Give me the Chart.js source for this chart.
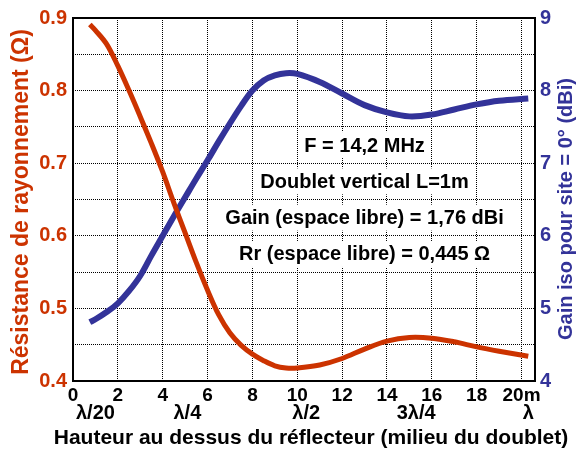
<!DOCTYPE html>
<html>
<head>
<meta charset="utf-8">
<script src="https://cdn.jsdelivr.net/npm/chart.js@4"></script>
<style>
  html, body { margin: 0; padding: 0; background: #fff; }
  #wrap { width: 579px; height: 451px; }
</style>
</head>
<body>
<div id="wrap"><canvas id="chart" width="579" height="451"></canvas></div>
<script>
// Hauteur (m) des points relevés
const heights = [0.75, 1, 1.5, 2, 2.5, 3, 3.5, 4, 4.5, 5, 5.5, 6, 6.5, 7, 7.5, 8, 8.5, 9, 9.5, 10, 11, 12, 13, 14, 15, 16, 17, 18, 19, 20.3];
// Résistance de rayonnement (ohm), axe gauche
const resistance = [0.891, 0.883, 0.864, 0.834, 0.800, 0.764, 0.727, 0.688, 0.645, 0.604, 0.563, 0.525, 0.491, 0.466, 0.449, 0.437, 0.428, 0.421, 0.418, 0.418, 0.422, 0.431, 0.444, 0.455, 0.460, 0.459, 0.454, 0.447, 0.441, 0.434];
// Gain iso pour site = 0° (dBi), axe droit
const gain = [4.81, 4.85, 4.95, 5.07, 5.24, 5.45, 5.73, 6.00, 6.27, 6.53, 6.79, 7.04, 7.30, 7.55, 7.79, 8.00, 8.14, 8.21, 8.24, 8.23, 8.12, 7.96, 7.80, 7.70, 7.645, 7.67, 7.74, 7.81, 7.86, 7.89];

// graduations de l'axe X
const xTicks = [0, 2, 4, 6, 8, 10, 12, 14, 16, 18, 20];
// seconde ligne sous l'axe X
const lambdaLabels = ['λ/20', 'λ/4', 'λ/2', '3λ/4', 'λ'];
const lambdaPos = [1, 5.1, 10.4, 15.3, 20.3];

const infoLines = ['F = 14,2 MHz', 'Doublet vertical L=1m', 'Gain (espace libre) = 1,76 dBi', 'Rr (espace libre) = 0,445 Ω'];
const infoY = [0.725, 0.675, 0.625, 0.575];
const infoX = 13;

const RED = 'rgb(204, 51, 0)';
const BLUE = 'rgb(51, 51, 153)';
const FONT = 'Arial, "Liberation Sans", sans-serif';

const extras = {
  id: 'extras',
  afterDatasetsDraw(chart) {
    const ctx = chart.ctx;
    const x = chart.scales.x, y = chart.scales.y;
    ctx.save();
    // encadré d'informations
    ctx.font = 'bold 20px ' + FONT;
    ctx.textAlign = 'center';
    ctx.textBaseline = 'middle';
    infoLines.forEach((t, i) => {
      const cx = x.getPixelForValue(infoX);
      const cy = y.getPixelForValue(infoY[i]);
      const w = ctx.measureText(t).width;
      ctx.fillStyle = '#fff';
      ctx.fillRect(cx - w / 2 - 3, cy - 13, w + 6, 26);
      ctx.fillStyle = '#000';
      ctx.fillText(t, cx, cy + 1);
    });
    // cadre
    const a = chart.chartArea;
    ctx.strokeStyle = '#000';
    ctx.lineWidth = 2;
    ctx.strokeRect(a.left, a.top, a.right - a.left, a.bottom - a.top);
    ctx.restore();
  },
  afterDraw(chart) {
    const ctx = chart.ctx;
    const x = chart.scales.x;
    ctx.save();
    ctx.textBaseline = 'middle';
    ctx.textAlign = 'center';
    ctx.fillStyle = '#000';
    ctx.font = 'bold 20px ' + FONT;
    lambdaLabels.forEach((t, i) => {
      ctx.fillText(t, x.getPixelForValue(lambdaPos[i]), 413);
    });
    ctx.font = 'bold 21px ' + FONT;
    ctx.fillText('Hauteur au dessus du réflecteur (milieu du doublet)', 311, 438);

    // titres des axes Y (lus de bas en haut)
    ctx.font = 'bold 23px ' + FONT;
    ctx.fillStyle = RED;
    ctx.translate(22, 202);
    ctx.rotate(-Math.PI / 2);
    ctx.fillText('Résistance de rayonnement (Ω)', 0, 0);
    ctx.setTransform(1, 0, 0, 1, 0, 0);
    ctx.font = 'bold 20px ' + FONT;
    ctx.fillStyle = BLUE;
    ctx.translate(566, 209);
    ctx.rotate(-Math.PI / 2);
    ctx.fillText('Gain iso pour site = 0° (dBi)', 0, 0);
    ctx.restore();
  }
};

new Chart(document.getElementById('chart'), {
  type: 'line',
  data: {
    datasets: [
      {
        label: 'Rr',
        data: heights.map((h, i) => ({ x: h, y: resistance[i] })),
        borderColor: RED,
        borderWidth: 5,
        pointRadius: 0,
        tension: 0.35,
        yAxisID: 'y'
      },
      {
        label: 'Gain',
        data: heights.map((h, i) => ({ x: h, y: gain[i] })),
        borderColor: BLUE,
        borderWidth: 6,
        pointRadius: 0,
        tension: 0.35,
        yAxisID: 'y2'
      }
    ]
  },
  plugins: [extras],
  options: {
    responsive: false,
    animation: false,
    layout: { padding: { top: 17, left: 0, right: 0, bottom: 0 } },
    plugins: { legend: { display: false }, tooltip: { enabled: false } },
    scales: {
      x: {
        type: 'linear',
        min: 0,
        max: 20.6,
        border: { display: false, dash: [1, 1] },
        grid: { color: '#000', lineWidth: 1, drawTicks: false },
        afterBuildTicks(scale) {
          scale.ticks = xTicks.map(v => ({ value: v }));
        },
        ticks: {
          padding: 3,
          color: '#000',
          font: { family: FONT, size: 19, weight: 'bold' },
          maxRotation: 0,
          autoSkip: false,
          callback: v => v === 20 ? '20m' : String(v)
        },
        afterFit(scale) { scale.height = 70; }
      },
      y: {
        position: 'left',
        min: 0.4,
        max: 0.9,
        border: { display: false, dash: [1, 1] },
        grid: { color: '#000', lineWidth: 1, drawTicks: false },
        ticks: {
          stepSize: 0.05,
          padding: 6,
          color: RED,
          font: { family: FONT, size: 20, weight: 'bold' },
          callback: v => {
            const r = Math.round(v * 100);
            return r % 10 === 0 ? (r / 100).toFixed(1) : '';
          }
        },
        afterFit(scale) { scale.width = 73; }
      },
      y2: {
        position: 'right',
        min: 4,
        max: 9,
        border: { display: false },
        grid: { display: false, drawTicks: false },
        ticks: {
          stepSize: 1,
          padding: 5,
          color: BLUE,
          font: { family: FONT, size: 20, weight: 'bold' }
        },
        afterFit(scale) { scale.width = 44; }
      }
    }
  }
});
</script>
</body>
</html>
